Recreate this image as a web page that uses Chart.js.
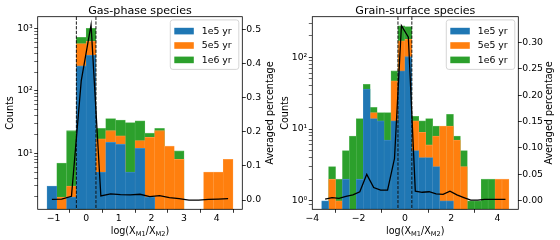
<!DOCTYPE html>
<html>
<head>
<meta charset="utf-8">
<script src="https://cdn.jsdelivr.net/npm/chart.js@4.4.1/dist/chart.umd.min.js"></script>
<style>
body{margin:0;background:#fff;}
#wrap{position:relative;width:560px;height:240px;}
canvas{position:absolute;top:0;}
</style>
</head>
<body>
<div id="wrap">
<canvas id="gas" width="280" height="240" style="left:0"></canvas>
<canvas id="grain" width="280" height="240" style="left:280px"></canvas>
</div>
<script>
// bin centres of log(X_M1/X_M2), bins of 0.3 dex
const gasBins = [-1.05,-0.75,-0.45,-0.15,0.15,0.45,0.75,1.05,1.35,1.65,1.95,2.25,2.55,2.85,3.15,3.45,3.75,4.05,4.35];
const gas1e5 = [3,null,2,250,370,5,15,14,5,12,2,null,null,null,null,null,null,null,null];
const gas5e5 = [null,2,3,570,620,17,23,19,4,16,18,23,13,8,null,null,5,5,8];
const gas1e6 = [null,7,23,720,1000,25,36,34,31,33,21,25,null,11,null,null,null,null,null];
const gasAvg = [0.002,0.003,0.011,0.35,0.513,0.012,0.018,0.016,0.015,0.017,0.010,0.013,0.007,0.004,0.0,0.0,0.002,0.003,0.004];

const grainBins = [-3.45,-3.15,-2.85,-2.55,-2.25,-1.95,-1.65,-1.35,-1.05,-0.75,-0.45,-0.15,0.15,0.45,0.75,1.05,1.35,1.65,1.95,2.25,2.55,2.85,3.15,3.45,3.75,4.05,4.35];
const grain1e5 = [1,null,null,2,null,2,36,14,13,7,13,65,102,5,4,4,3,1,1,null,null,null,null,null,null,null,null];
const grain5e5 = [null,2,1,null,null,null,null,17,null,null,47,170,178,13,9,6,8,11,11,7,3,null,null,null,null,2,2];
const grain1e6 = [null,3,2,5,8,14,42,20,17,17,65,275,268,15,13,14,11,null,16,8,5,1,1,2,2,null,null];
const grainAvg = [0.003,0.006,0.0045,0.008,0.011,0.017,0.050,0.025,0.020,0.020,0.080,0.332,0.31,0.018,0.016,0.017,0.013,0.012,0.018,0.011,0.006,0.001,0.001,0.0025,0.0025,0.0025,0.0025];

const seriesNames = ['1e5 yr','5e5 yr','1e6 yr'];
const cutLines = [-0.3, 0.3];

const colors = ['#1f77b4','#ff7f0e','#2ca02c'];
const edges = ['#4a92c6','#ff9d47','#5cb85c'];
const FONT = "'DejaVu Sans', sans-serif";
const sup = ['\u2070','\u00b9','\u00b2','\u00b3'];

Chart.defaults.font.family = FONT;
Chart.defaults.font.size = 9.3;
Chart.defaults.color = '#000';
Chart.defaults.animation = false;
Chart.defaults.events = [];

function isPow10(v){
  if(!(v > 0)) return false;
  const e = Math.log10(v);
  return Math.abs(e - Math.round(e)) < 1e-6;
}
function isNiceLog(v){
  if(!(v > 0)) return false;
  const p = Math.pow(10, Math.floor(Math.log10(v) + 1e-9));
  const s = v / p;
  return Math.abs(s - Math.round(s)) < 1e-6;
}

const decor = {
  id: 'decor',
  afterDatasetsDraw(chart, args, o){
    const ctx = chart.ctx, a = chart.chartArea, x = chart.scales.x;
    ctx.save();
    ctx.strokeStyle = '#000';
    ctx.lineWidth = 0.9;
    ctx.setLineDash([3.3, 1.4]);
    cutLines.forEach(v => {
      const px = x.getPixelForValue(v);
      ctx.beginPath(); ctx.moveTo(px, a.top); ctx.lineTo(px, a.bottom); ctx.stroke();
    });
    ctx.restore();
  },
  afterDraw(chart, args, o){
    const ctx = chart.ctx, a = chart.chartArea;
    ctx.save();
    ctx.strokeStyle = '#000';
    ctx.lineWidth = 0.8;
    ctx.strokeRect(a.left, a.top, a.width, a.height);

    ctx.fillStyle = '#000';
    ctx.font = '11.1px ' + FONT;
    ctx.textAlign = 'center';
    ctx.textBaseline = 'alphabetic';
    ctx.fillText(o.title, (a.left + a.right) / 2, 14);

    // y titles, both read bottom to top
    ctx.font = '9.6px ' + FONT;
    ctx.textBaseline = 'middle';
    const cy = (a.top + a.bottom) / 2;
    [[o.yLabelX, 'Counts'], [o.y1LabelX, 'Averaged percentage']].forEach(p => {
      ctx.save(); ctx.translate(p[0], cy); ctx.rotate(-Math.PI / 2); ctx.fillText(p[1], 0, 0); ctx.restore();
    });

    // x title with subscripts
    const parts = [['log(X',0],['M1',1],['/X',0],['M2',1],[')',0]];
    const fMain = '9.6px ' + FONT, fSub = '6.7px ' + FONT;
    let w = 0;
    parts.forEach(p => { ctx.font = p[1] ? fSub : fMain; w += ctx.measureText(p[0]).width; });
    let tx = (a.left + a.right) / 2 - w / 2;
    ctx.textAlign = 'left';
    ctx.textBaseline = 'alphabetic';
    parts.forEach(p => {
      ctx.font = p[1] ? fSub : fMain;
      ctx.fillText(p[0], tx, p[1] ? 235.6 : 233.5);
      tx += ctx.measureText(p[0]).width;
    });

    // legend inside the plot, upper right
    const bars = chart.data.datasets.filter(d => d.type === 'bar');
    const bw = 68.5, bh = 49.5, bx = a.right - 3.5 - bw, by = a.top + 3.2, r = 2.5;
    ctx.beginPath();
    ctx.moveTo(bx + r, by); ctx.lineTo(bx + bw - r, by); ctx.quadraticCurveTo(bx + bw, by, bx + bw, by + r);
    ctx.lineTo(bx + bw, by + bh - r); ctx.quadraticCurveTo(bx + bw, by + bh, bx + bw - r, by + bh);
    ctx.lineTo(bx + r, by + bh); ctx.quadraticCurveTo(bx, by + bh, bx, by + bh - r);
    ctx.lineTo(bx, by + r); ctx.quadraticCurveTo(bx, by, bx + r, by);
    ctx.closePath();
    ctx.fillStyle = 'rgba(255,255,255,0.8)'; ctx.fill();
    ctx.strokeStyle = '#cccccc'; ctx.lineWidth = 0.8; ctx.stroke();
    ctx.font = '9.3px ' + FONT;
    ctx.textBaseline = 'middle';
    bars.forEach((d, i) => {
      const ry = by + 11.2 + i * 14.4;
      ctx.fillStyle = d.backgroundColor;
      ctx.fillRect(bx + 4, ry - 3.3, 19.5, 6.6);
      ctx.fillStyle = '#000';
      ctx.fillText(d.label, bx + 31.5, ry + 0.5);
    });
    ctx.restore();
  }
};

function histChart(id, bins, counts, avg, cfg){
  const datasets = counts.map((c, i) => ({
    type: 'bar',
    label: seriesNames[i],
    data: bins.map((b, j) => ({x: b, y: c[j]})),
    backgroundColor: colors[i],
    borderColor: edges[i],
    borderWidth: {left: 0.5, right: 0.5, top: 0.8, bottom: 0},
    grouped: false,
    categoryPercentage: 1,
    barPercentage: 1,
    yAxisID: 'y',
    order: i + 1
  }));
  datasets.unshift({
    type: 'line',
    label: 'avg',
    data: bins.map((b, j) => ({x: b, y: avg[j]})),
    yAxisID: 'y1',
    borderColor: '#000',
    borderWidth: 1.3,
    pointRadius: 0,
    tension: 0,
    fill: false,
    order: 0
  });

  const tickGrid = {
    drawOnChartArea: false, drawTicks: true, tickLength: 3.5,
    tickColor: '#000', tickWidth: 0.8
  };

  return new Chart(document.getElementById(id), {
    data: {datasets},
    options: {
      responsive: false,
      devicePixelRatio: 1,
      layout: {padding: {top: 16.7, left: 0, right: 0, bottom: 0}},
      plugins: {
        legend: {display: false},
        tooltip: {enabled: false},
        decor: cfg.decor
      },
      scales: {
        x: {
          type: 'linear', position: 'bottom', offset: false,
          min: cfg.xMin, max: cfg.xMax,
          border: {display: false},
          grid: tickGrid,
          ticks: {
            stepSize: cfg.xStep, includeBounds: false, padding: 0.5, maxRotation: 0,
            callback: v => String(Math.round(v)).replace('-', '\u2212')
          },
          afterFit: s => { s.height = 30.7; }
        },
        y: {
          type: 'logarithmic', position: 'left',
          min: cfg.yMin, max: cfg.yMax,
          border: {display: false},
          grid: {
            drawOnChartArea: false, drawTicks: true, tickLength: 3.5,
            tickColor: c => (c.tick && isNiceLog(c.tick.value)) ? '#000' : 'rgba(0,0,0,0)',
            tickWidth: c => (c.tick && isPow10(c.tick.value)) ? 0.8 : 0.6
          },
          ticks: {
            autoSkip: false, padding: 1.5,
            callback: v => isPow10(v) ? '10' + sup[Math.round(Math.log10(v))] : ''
          },
          afterFit: s => { s.width = cfg.yWidth; }
        },
        y1: {
          type: 'linear', position: 'right',
          min: cfg.y1Min, max: cfg.y1Max,
          border: {display: false},
          grid: tickGrid,
          ticks: {
            stepSize: cfg.y1Step, includeBounds: false, padding: 0.5,
            callback: v => v.toFixed(cfg.y1Dec)
          },
          afterFit: s => { s.width = cfg.y1Width; }
        }
      }
    },
    plugins: [decor]
  });
}

histChart('gas', gasBins, [gas1e5, gas5e5, gas1e6], gasAvg, {
  xMin: -1.485, xMax: 4.785, xStep: 1,
  yMin: 1.27, yMax: 1535, yWidth: 37.7,
  y1Min: -0.027, y1Max: 0.537, y1Step: 0.1, y1Dec: 1, y1Width: 37.7,
  decor: {title: 'Gas-phase species', yLabelX: 10, y1LabelX: 270.3}
});

histChart('grain', grainBins, [grain1e5, grain5e5, grain1e6], grainAvg, {
  xMin: -4.005, xMax: 4.905, xStep: 2,
  yMin: 0.76, yMax: 368, yWidth: 32.3,
  y1Min: -0.0163, y1Max: 0.349, y1Step: 0.05, y1Dec: 2, y1Width: 41.7,
  decor: {title: 'Grain-surface species', yLabelX: 5.2, y1LabelX: 269.5}
});
</script>
</body>
</html>
